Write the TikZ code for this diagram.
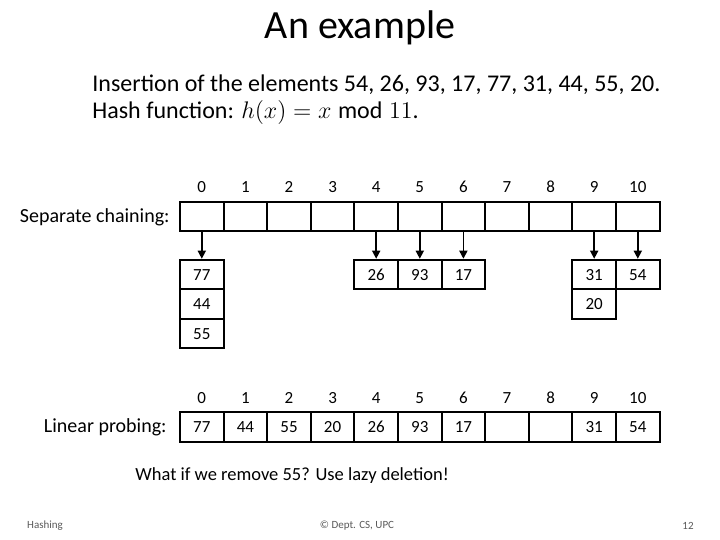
\documentclass[tikz,border=0pt]{standalone}
\usepackage{amsmath}
\usepackage{fontspec}
\setmainfont{Carlito}
\usetikzlibrary{arrows.meta, positioning}

\tikzset{
    cell/.style={draw, line width=1pt, minimum width=21.8pt, minimum height=14.75pt,
        inner sep=0pt, text height=6pt, text depth=0pt, font=\fontsize{8.5}{10}\selectfont},
    idx/.style={inner sep=0pt, font=\fontsize{8.5}{10}\selectfont},
    label/.style={inner sep=0pt, font=\fontsize{10}{12}\selectfont},
    foot/.style={inner sep=0pt, text=black!65, font=\fontsize{5.5}{6}\selectfont},
    link/.style={line width=0.8pt, -{Triangle[length=4pt, width=4pt]}}
}

\begin{document}
\begin{tikzpicture}[x=0.5pt, y=-0.5pt]
    \useasboundingbox (0,0) rectangle (720,540);

    % Title and statement
    \node[inner sep=0pt, font=\fontsize{20}{24}\selectfont] (title) at (360,28) {An example};
    \node[inner sep=0pt, anchor=west, font=\fontsize{12}{14}\selectfont] (line1) at (92,85) {Insertion of the elements 54, 26, 93, 17, 77, 31, 44, 55, 20.};
    \node[inner sep=0pt, anchor=west, font=\fontsize{12}{14}\selectfont] (line2) at (92,113) {Hash function: $h(x) = x \bmod 11$.};

    % Separate chaining
    \node[label, anchor=east] (sclabel) at (170,217) {Separate chaining:};
    \foreach \i in {0,...,10} {
        \node[idx] (i\i) at ({201.8+43.6*\i},187) {\i};
        \node[cell] (c\i) at ({201.8+43.6*\i},216.5) {};
    }
    \foreach \col/\row/\val in {0/1/77, 0/2/44, 0/3/55, 4/1/26, 5/1/93, 6/1/17, 9/1/31, 9/2/20, 10/1/54} {
        \node[cell] (k\col-\row) at ({201.8+43.6*\col},{245+29.5*\row}) {\val};
    }
    \foreach \col in {0,4,5,6,9,10} {
        \draw[link] (c\col.south) -- (k\col-1.north);
    }

    % Linear probing
    \node[label, anchor=east] (lplabel) at (167,427) {Linear probing:};
    \foreach \i/\val in {0/77, 1/44, 2/55, 3/20, 4/26, 5/93, 6/17, 7/{}, 8/{}, 9/31, 10/54} {
        \node[idx] (j\i) at ({201.8+43.6*\i},398) {\i};
        \node[cell] (p\i) at ({201.8+43.6*\i},427) {\val};
    }

    \node[inner sep=0pt, anchor=west, font=\fontsize{9.25}{11}\selectfont] (question) at (135,476) {What if we remove 55? Use lazy deletion!};

    % Footer
    \node[foot] (foot1) at (45,526) {Hashing};
    \node[foot] (foot2) at (357,526) {\textcopyright{} Dept. CS, UPC};
    \node[foot] (foot3) at (688,526) {12};
\end{tikzpicture}
\end{document}
